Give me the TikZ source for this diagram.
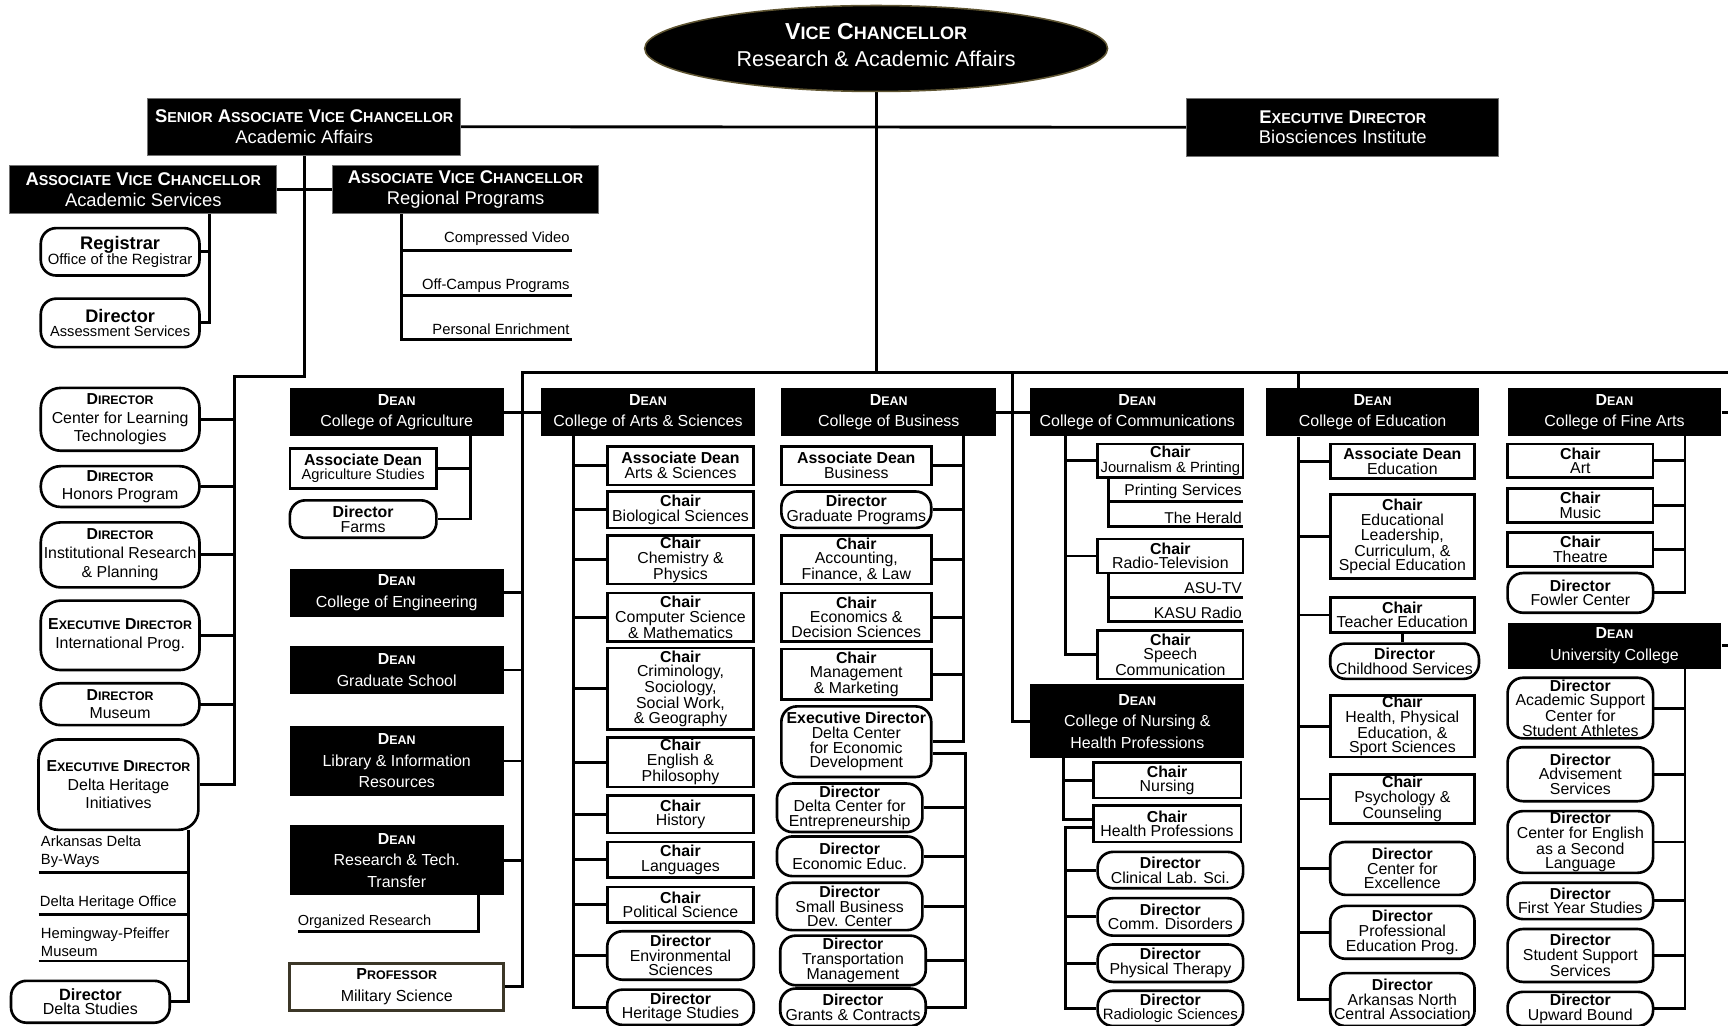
\documentclass[tikz,border=0pt]{standalone}
\usepackage{fontspec}
\setmainfont{Liberation Sans}
\usetikzlibrary{shapes.geometric}
\pgfdeclarelayer{bg}
\pgfsetlayers{bg,main}
\definecolor{vcb}{RGB}{95,85,50}
\definecolor{profb}{RGB}{60,55,40}
\makeatletter
\newcommand\smc[2]{#1{\fontsize{\fpeval{0.78*\f@size}}{\f@baselineskip}\selectfont#2}}
\makeatother
\newcommand\bx[7]{\node[#2, minimum width={(#5-#3)*1pt}, minimum height={(#6-#4)*1pt}] (#1) at ({(#3+#5)/2},{(#4+#6)/2}) {#7};}
\tikzset{
  ln/.style={line width=2.6pt},
  topbox/.style={fill=black, draw=black!55, line width=0.8pt, text=white, inner sep=0pt, align=center, font=\fontsize{16.7}{18.5}\selectfont},
  dean/.style={fill=black, text=white, inner sep=0pt, align=center, font=\fontsize{14.5}{19.5}\selectfont},
  sq/.style={draw=black, line width=2.4pt, fill=white, inner sep=0pt, align=center, font=\fontsize{14.4}{13.3}\selectfont},
  rd/.style={sq, rounded corners=14pt},
  rdl/.style={sq, rounded corners=18pt, font=\fontsize{14.4}{17}\selectfont},
  prof/.style={draw=profb, line width=2.6pt, fill=white, inner sep=0pt, align=center, font=\fontsize{14.5}{19.5}\selectfont},
  lbl/.style={inner sep=0pt, align=left, font=\fontsize{13.4}{16}\selectfont},
}
\begin{document}
\begin{tikzpicture}[x=1pt,y=-1pt]
\useasboundingbox (0,0) rectangle (1568,931);
% ---------- top ----------
\node[ellipse, fill=black, draw=vcb, line width=1.4pt, minimum width=420pt, minimum height=78pt, inner sep=0pt, text=white, align=center, font=\fontsize{19.5}{24}\selectfont] (vc) at (795,44) {};
\node[text=white, align=center, inner sep=0pt, font=\fontsize{19.5}{24}\selectfont] (vct) at (795,41)
  {{\fontsize{21}{24}\selectfont\bfseries\smc{V}{ICE} \smc{C}{HANCELLOR}}\\Research \& Academic Affairs};
\bx{sen}{topbox}{134}{89}{418}{141}{{\bfseries\smc{S}{ENIOR} \smc{A}{SSOCIATE} \smc{V}{ICE} \smc{C}{HANCELLOR}}\\Academic Affairs}
\bx{exbio}{topbox}{1077}{89}{1360}{142}{{\bfseries\smc{E}{XECUTIVE} \smc{D}{IRECTOR}}\\Biosciences Institute}
\bx{avcas}{topbox}{9}{150}{251}{194}{{\bfseries\smc{A}{SSOCIATE} \smc{V}{ICE} \smc{C}{HANCELLOR}}\\Academic Services}
\bx{avcrp}{topbox}{302}{150}{543}{194}{{\bfseries\smc{A}{SSOCIATE} \smc{V}{ICE} \smc{C}{HANCELLOR}}\\Regional Programs}
\bx{reg}{rd}{37}{207}{181}{250}{{\fontsize{16.5}{17}\selectfont\bfseries Registrar}\\{\fontsize{13.5}{17}\selectfont Office of the Registrar}}
\bx{assess}{rd}{37}{271}{181}{315}{{\fontsize{16.5}{16}\selectfont\bfseries Director}\\{\fontsize{13.3}{16}\selectfont Assessment Services}}
\node[lbl, anchor=east] (cv) at (517,217) {Compressed Video};
\node[lbl, anchor=east] (ocp) at (517,259) {Off-Campus Programs};
\node[lbl, anchor=east] (pen) at (517,299) {Personal Enrichment};
% ---------- left column ----------
\bx{clt}{rdl}{37}{352}{181}{409}{\textbf{\smc{D}{IRECTOR}}\\Center for Learning\\Technologies}
\bx{hon}{rdl}{37}{423}{181}{460}{\textbf{\smc{D}{IRECTOR}}\\Honors Program}
\bx{inst}{rdl}{37}{474}{181}{533}{\textbf{\smc{D}{IRECTOR}}\\Institutional Research\\\& Planning}
\bx{intl}{rdl}{37}{545}{181}{608}{\textbf{\smc{E}{XECUTIVE} \smc{D}{IRECTOR}}\\International Prog.}
\bx{mus}{rdl}{37}{620}{181}{658}{\textbf{\smc{D}{IRECTOR}}\\Museum}
\bx{dh}{rdl}{35}{671}{180}{753}{\textbf{\smc{E}{XECUTIVE} \smc{D}{IRECTOR}}\\Delta Heritage\\Initiatives}
\bx{dst}{rd}{10}{890}{154}{928}{{\fontsize{14.8}{14}\selectfont\bfseries Director}\\{\fontsize{14.5}{14}\selectfont Delta Studies}}
\node[lbl, anchor=west] (byw) at (37,773) {Arkansas Delta\\By-Ways};
\node[lbl, anchor=west] (dho) at (36,819) {Delta Heritage Office};
\node[lbl, anchor=west] (hpm) at (37,855) {Hemingway-Pfeiffer\\Museum};
% ---------- agriculture column ----------
\bx{agri}{dean}{263}{352}{457}{396}{\textbf{\smc{D}{EAN}}\\College of Agriculture}
\bx{aas}{sq}{263}{407}{396}{443}{\textbf{Associate Dean}\\{\fontsize{13.3}{13}\selectfont Agriculture Studies}}
\bx{farms}{rd}{263}{454}{396}{488}{\textbf{Director}\\Farms}
\bx{eng}{dean}{263}{516}{457}{560}{\textbf{\smc{D}{EAN}}\\College of Engineering}
\bx{grad}{dean}{263}{586}{457}{630}{\textbf{\smc{D}{EAN}}\\Graduate School}
\bx{lib}{dean}{263}{659}{457}{722}{\textbf{\smc{D}{EAN}}\\Library \& Information\\Resources}
\bx{rtt}{dean}{263}{749}{457}{812}{\textbf{\smc{D}{EAN}}\\Research \& Tech.\\Transfer}
\node[lbl, anchor=base west, font=\fontsize{13.2}{16}\selectfont] (orgr) at (270,840) {Organized Research};
\bx{prof}{prof}{263}{874}{457}{917}{\textbf{\smc{P}{ROFESSOR}}\\Military Science}
% ---------- arts & sciences ----------
\bx{arts}{dean}{491}{352}{685}{396}{\textbf{\smc{D}{EAN}}\\College of Arts \& Sciences}
\bx{aads}{sq}{551}{405}{684}{440}{\textbf{Associate Dean}\\Arts \& Sciences}
\bx{bio}{sq}{551}{446}{684}{479}{\textbf{Chair}\\Biological Sciences}
\bx{chem}{sq}{551}{486}{684}{530}{\textbf{Chair}\\Chemistry \&\\Physics}
\bx{cs}{sq}{551}{538}{684}{582}{\textbf{Chair}\\Computer Science\\\& Mathematics}
\bx{crim}{sq}{551}{588}{684}{662}{\textbf{Chair}\\Criminology,\\Sociology,\\Social Work,\\\& Geography}
\bx{engl}{sq}{551}{669}{684}{714}{\textbf{Chair}\\English \&\\Philosophy}
\bx{hist}{sq}{551}{722}{684}{756}{\textbf{Chair}\\History}
\bx{lang}{sq}{551}{764}{684}{796}{\textbf{Chair}\\Languages}
\bx{pols}{sq}{551}{805}{684}{837}{\textbf{Chair}\\Political Science}
\bx{env}{rd}{551}{845}{684}{889}{\textbf{Director}\\Environmental\\Sciences}
\bx{herit}{rd}{551}{898}{684}{930}{\textbf{Director}\\Heritage Studies}
% ---------- business ----------
\bx{busd}{dean}{709}{352}{904}{396}{\textbf{\smc{D}{EAN}}\\College of Business}
\bx{bad}{sq}{709}{405}{845}{440}{\textbf{Associate Dean}\\Business}
\bx{gp}{rd}{709}{446}{845}{479}{\textbf{Director}\\Graduate Programs}
\bx{acct}{sq}{709}{486}{845}{530}{\textbf{Chair}\\Accounting,\\Finance, \& Law}
\bx{econ}{sq}{709}{538}{845}{582}{\textbf{Chair}\\Economics \&\\Decision Sciences}
\bx{mgmt}{sq}{709}{589}{845}{635}{\textbf{Chair}\\Management\\\& Marketing}
\bx{edc}{rd}{709}{641}{845}{705}{\textbf{Executive Director}\\Delta Center\\for Economic\\Development}
\bx{entre}{rd}{705}{711}{837}{755}{\textbf{Director}\\Delta Center for\\Entrepreneurship}
\bx{eced}{rd}{705}{759}{837}{795}{\textbf{Director}\\Economic Educ.}
\bx{sbdc}{rd}{705}{801}{837}{844}{\textbf{Director}\\Small Business\\Dev. Center}
\bx{trans}{rd}{708}{849}{840}{894}{\textbf{Director}\\Transportation\\Management}
\bx{grants}{rd}{708}{897}{840}{931}{\textbf{Director}\\Grants \& Contracts}
% ---------- communications / nursing ----------
\bx{comm}{dean}{935}{352}{1129}{396}{\textbf{\smc{D}{EAN}}\\College of Communications}
\bx{journ}{sq}{996}{403}{1128}{433}{\textbf{Chair}\\{\fontsize{13.4}{13}\selectfont Journalism \& Printing}}
\bx{radio}{sq}{996}{489}{1128}{520}{\textbf{Chair}\\Radio-Television}
\bx{speech}{sq}{996}{572}{1128}{616}{\textbf{Chair}\\Speech\\Communication}
\node[lbl, anchor=east, font=\fontsize{14.2}{16}\selectfont] (prs) at (1127,446) {Printing Services};
\node[lbl, anchor=east, font=\fontsize{14.2}{16}\selectfont] (her) at (1127,470) {The Herald};
\node[lbl, anchor=east, font=\fontsize{14.2}{16}\selectfont] (asutv) at (1127,534) {ASU-TV};
\node[lbl, anchor=east, font=\fontsize{14.2}{16}\selectfont] (kasu) at (1127,556) {KASU Radio};
\bx{nurs}{dean}{935}{621}{1129}{688}{\textbf{\smc{D}{EAN}}\\College of Nursing \&\\Health Professions}
\bx{chn}{sq}{992}{692}{1126}{724}{\textbf{Chair}\\Nursing}
\bx{chp}{sq}{992}{731}{1126}{764}{\textbf{Chair}\\Health Professions}
\bx{cls}{rd}{996}{773}{1128}{806}{\textbf{Director}\\Clinical Lab. Sci.}
\bx{cdis}{rd}{996}{815}{1128}{849}{\textbf{Director}\\Comm. Disorders}
\bx{pt}{rd}{996}{857}{1128}{891}{\textbf{Director}\\Physical Therapy}
\bx{rad}{rd}{996}{899}{1128}{931}{\textbf{Director}\\{\fontsize{13.6}{13}\selectfont Radiologic Sciences}}
% ---------- education ----------
\bx{edu}{dean}{1149}{352}{1342}{396}{\textbf{\smc{D}{EAN}}\\College of Education}
\bx{ead}{sq}{1207}{403}{1338}{434}{\textbf{Associate Dean}\\Education}
\bx{elcs}{sq}{1207}{449}{1338}{525}{\textbf{Chair}\\Educational\\Leadership,\\Curriculum, \&\\Special Education}
\bx{tch}{sq}{1207}{542}{1338}{574}{\textbf{Chair}\\Teacher Education}
\bx{chs}{rd}{1207}{584}{1342}{616}{\textbf{Director}\\Childhood Services}
\bx{hpe}{sq}{1207}{631}{1338}{687}{\textbf{Chair}\\Health, Physical\\Education, \&\\Sport Sciences}
\bx{psy}{sq}{1207}{703}{1338}{747}{\textbf{Chair}\\Psychology \&\\Counseling}
\bx{cfe}{rd}{1207}{764}{1338}{812}{\textbf{Director}\\Center for\\Excellence}
\bx{pep}{rd}{1207}{822}{1338}{870}{\textbf{Director}\\Professional\\Education Prog.}
\bx{ark}{rd}{1207}{883}{1338}{931}{\textbf{Director}\\Arkansas North\\Central Association}
% ---------- fine arts / university college ----------
\bx{fa}{dean}{1368}{352}{1562}{396}{\textbf{\smc{D}{EAN}}\\College of Fine Arts}
\bx{art}{sq}{1368}{403}{1500}{433}{\textbf{Chair}\\Art}
\bx{mus2}{sq}{1368}{443}{1500}{474}{\textbf{Chair}\\Music}
\bx{thr}{sq}{1368}{483}{1500}{514}{\textbf{Chair}\\Theatre}
\bx{fow}{rd}{1368}{520}{1500}{556}{\textbf{Director}\\Fowler Center}
\bx{uc}{dean}{1368}{565}{1562}{607}{\textbf{\smc{D}{EAN}}\\University College}
\bx{asc}{rd}{1368}{615}{1500}{670}{\textbf{Director}\\Academic Support\\Center for\\Student Athletes}
\bx{adv}{rd}{1368}{678}{1500}{727}{\textbf{Director}\\Advisement\\Services}
\bx{esl}{rd}{1368}{736}{1500}{792}{\textbf{Director}\\Center for English\\as a Second\\Language}
\bx{fys}{rd}{1368}{801}{1500}{834}{\textbf{Director}\\First Year Studies}
\bx{sss}{rd}{1368}{843}{1500}{891}{\textbf{Director}\\Student Support\\Services}
\bx{ub}{rd}{1368}{900}{1500}{931}{\textbf{Director}\\Upward Bound}
% ---------- coordinates ----------
\coordinate (busL) at (474,338);
\coordinate (busR) at (1568,338);
\coordinate (edgeR) at (1568,0);
\coordinate (lsp) at (213,342);
\coordinate (assp) at (190,194);
\coordinate (rpsp) at (364,194);
\coordinate (cvR) at (519,227);
\coordinate (ocR) at (519,268);
\coordinate (peR) at (519,308);
\coordinate (dhsp) at (171,753);
\coordinate (ul1) at (35,792);
\coordinate (ul2) at (35,830);
\coordinate (ul3) at (35,872);
\coordinate (agsp) at (427,396);
\coordinate (rsp) at (434,812);
\coordinate (orL) at (270,845);
\coordinate (assp3) at (520,396);
\coordinate (csp) at (919,338);
\coordinate (bssp) at (874,396);
\coordinate (bs2) at (876,0);
\coordinate (cmsp) at (967,396);
\coordinate (jsp) at (1006,433);
\coordinate (psR) at (1128,455);
\coordinate (hrR) at (1128,478);
\coordinate (rtsp) at (1006,520);
\coordinate (atR) at (1128,542);
\coordinate (kaR) at (1128,564);
\coordinate (nsp) at (965,688);
\coordinate (nsp2) at (967,0);
\coordinate (edsp) at (1178,338);
\coordinate (fasp) at (1529,396);
\coordinate (ucsp) at (1529,607);
% ---------- connectors ----------
\begin{pgfonlayer}{bg}
\draw[ln] (vc.south) -- (vc.south |- busL);
\draw[ln] (sen.east) -- (exbio.west);
\draw[ln] (avcas.east) -- (avcrp.west);
\draw[ln] (sen.south) |- (lsp) |- (dh.east);
\foreach \n in {clt,hon,inst,intl,mus} \draw[ln] (\n.east) -- (\n.east -| lsp);
\draw[ln] (assp) |- (assess.east);
\draw[ln] (reg.east) -- (reg.east -| assp);
\draw[ln] (rpsp) |- (peR);
\draw[ln] (cvR) -- (cvR -| rpsp);
\draw[ln] (ocR) -- (ocR -| rpsp);
\draw[ln] (dhsp) |- (dst.east);
\foreach \c in {ul1,ul2,ul3} \draw[ln] (\c) -- (\c -| dhsp);
% bus
\draw[ln] (busR) -- (busL) |- (prof.east);
\foreach \n in {agri,eng,grad,lib,rtt} \draw[ln] (\n.east) -- (\n.east -| busL);
\draw[ln] (arts.west) -- (arts.west -| busL);
\draw[ln] (agsp) |- (farms.east);
\draw[ln] (aas.east) -- (aas.east -| agsp);
\draw[ln] (rsp) |- (orL);
% arts & sciences
\draw[ln] (assp3) |- (herit.west);
\foreach \n in {aads,bio,chem,cs,crim,engl,hist,lang,pols,env} \draw[ln] (\n.west) -- (\n.west -| assp3);
% business
\draw[ln] (busd.east) -- (busd.east -| csp);
\draw[ln] (bssp) |- (edc.east);
\foreach \n in {bad,gp,acct,econ,mgmt} \draw[ln] (\n.east) -- (\n.east -| bssp);
\draw[ln] ([yshift=-11pt]edc.east) -| (bs2 |- grants.east) -- (grants.east);
\foreach \n in {entre,eced,sbdc,trans} \draw[ln] (\n.east) -- (\n.east -| bs2);
% communications & nursing
\draw[ln] (csp) |- (nurs.west);
\draw[ln] (comm.west) -- (comm.west -| csp);
\draw[ln] (cmsp) |- (speech.west);
\foreach \n in {journ,radio} \draw[ln] (\n.west) -- (\n.west -| cmsp);
\draw[ln] (jsp) |- (hrR);
\draw[ln] (psR) -- (psR -| jsp);
\draw[ln] (rtsp) |- (kaR);
\draw[ln] (atR) -- (atR -| rtsp);
\draw[ln] (nsp) |- ([yshift=4pt]chp.west);
\draw[ln] (chn.west) -- (chn.west -| nsp);
\draw[ln] ([yshift=-3pt]chp.west) -| (nsp2 |- rad.west) -- (rad.west);
\foreach \n in {cls,cdis,pt} \draw[ln] (\n.west) -- (\n.west -| nsp2);
% education
\draw[ln] (edsp) -- (edsp |- edu.north);
\draw[ln] (edsp |- edu.south) |- (ark.west);
\foreach \n in {ead,elcs,tch,hpe,psy,cfe,pep} \draw[ln] (\n.west) -- (\n.west -| edsp);
\draw[ln] (tch.south) -- (tch.south |- chs.north);
% fine arts & university college
\draw[ln] (fa.east) -- (fa.east -| edgeR);
\draw[ln] (uc.east) -- (uc.east -| edgeR);
\draw[ln] (fasp) |- (fow.east);
\foreach \n in {art,mus2,thr} \draw[ln] (\n.east) -- (\n.east -| fasp);
\draw[ln] (ucsp) |- (ub.east);
\foreach \n in {asc,adv,esl,fys,sss} \draw[ln] (\n.east) -- (\n.east -| ucsp);
\end{pgfonlayer}
\end{tikzpicture}
\end{document}
